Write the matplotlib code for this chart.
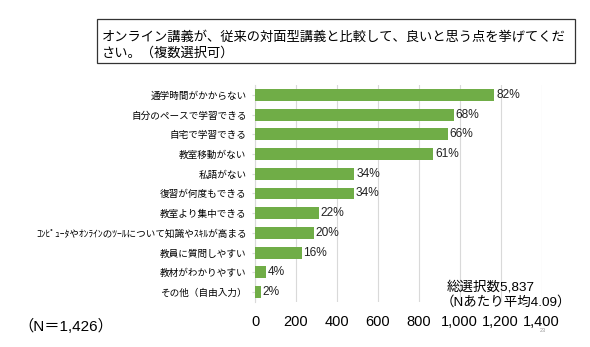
import matplotlib
matplotlib.use("Agg")
import matplotlib.pyplot as plt
from matplotlib.patches import Rectangle

plt.rcParams['font.family'] = ['Liberation Sans', 'Noto Sans CJK JP', 'DejaVu Sans']

# data (counts, N = 1,426)
categories = ["通学時間がかからない", "自分のペースで学習できる", "自宅で学習できる",
              "教室移動がない", "私語がない", "復習が何度もできる", "教室より集中できる",
              "ｺﾝﾋﾟｭｰﾀやｵﾝﾗｲﾝのﾂｰﾙについて知識やｽｷﾙが高まる", "教員に質問しやすい",
              "教材がわかりやすい", "その他（自由入力）"]
counts = [1170, 970, 942, 872, 486, 484, 314, 287, 228, 55, 29]
n_total = 1426
xticks = [0, 200, 400, 600, 800, 1000, 1200, 1400]

W, H = 590, 347
fig = plt.figure(figsize=(W / 100, H / 100), dpi=100)
ax = fig.add_axes([255 / W, 1 - 302 / H, (541.5 - 255) / W, (302 - 85) / H])

y = list(range(len(categories)))
ax.barh(y, counts, height=0.6, color='#70AD47', zorder=3)
for yi, c in zip(y, counts):
    pct = round(c / n_total * 100)
    ax.text(c + 8, yi, f"{pct}%", va='center', ha='left', fontsize=8.6, color='#222222')

ax.set_ylim(len(categories) - 0.5, -0.5)
ax.set_xlim(0, 1400)
ax.set_xticks(xticks)
ax.set_xticklabels([f"{v:,}" for v in xticks], fontsize=10.5)
ax.set_yticks(y)
ax.set_yticklabels(categories, fontsize=6.9)
ax.xaxis.grid(True, color='#D9D9D9', linewidth=0.8, zorder=0)
ax.tick_params(axis='x', length=0, pad=9)
ax.tick_params(axis='y', length=2, color='#D9D9D9', pad=4)
for s in ['top', 'right', 'bottom']:
    ax.spines[s].set_visible(False)
ax.spines['left'].set_color('#D9D9D9')

# title box
fig.patches.append(Rectangle((97 / W, 1 - 63 / H), (575 - 97) / W, (63 - 19) / H,
                             transform=fig.transFigure, fill=False,
                             edgecolor='#333333', linewidth=0.9))
fig.text(102 / W, 1 - 37 / H, "オンライン講義が、従来の対面型講義と比較して、良いと思う点を挙げてくだ",
         fontsize=9.55, va='center', ha='left')
fig.text(102 / W, 1 - 53 / H, "さい。（複数選択可）", fontsize=9.55, va='center', ha='left')

fig.text(447 / W, 1 - 287 / H, "総選択数5,837", fontsize=9.7, va='center', ha='left')
fig.text(441 / W, 1 - 302 / H, "（Nあたり平均4.09）", fontsize=9.7, va='center', ha='left')
fig.text(18 / W, 1 - 326 / H, "（N＝1,426）", fontsize=11, va='center', ha='left')
fig.text(543 / W, 1 - 331 / H, "23", fontsize=4, color='#999999', va='center', ha='center')

fig.savefig("out.png", dpi=100, facecolor='white')
